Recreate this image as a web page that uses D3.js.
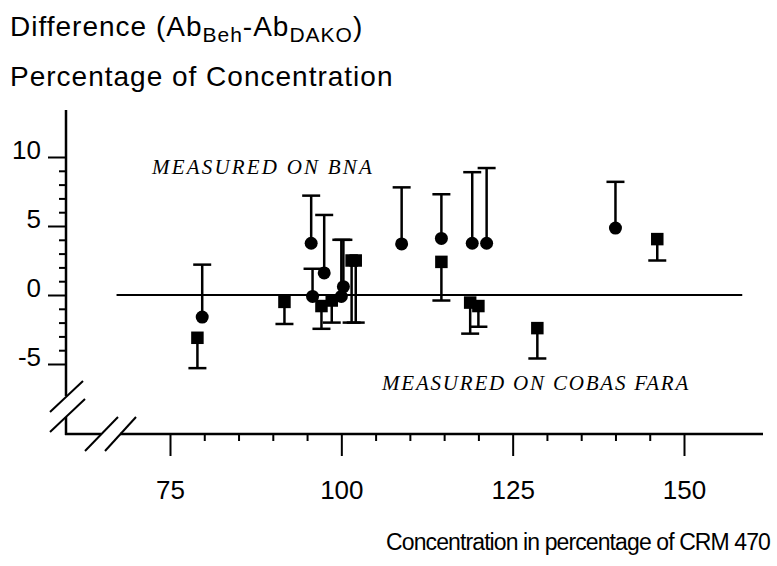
<!DOCTYPE html>
<html>
<head>
<meta charset="utf-8">
<script src="https://d3js.org/d3.v7.min.js"></script>
<style>
    body { margin: 0; background: #ffffff; }
    svg { display: block; }
    .sans { font-family: "Liberation Sans", Arial, sans-serif; fill: #000; }
    .serif { font-family: "Liberation Serif", "Times New Roman", serif; font-style: italic; fill: #000; }
</style>
</head>
<body>
<div class="chart"></div>
<script>
// BNA (circles, upper error bar)
var bnaX     = [79.7, 95.6, 97.5, 95.8, 100.0, 100.3, 108.8, 114.6, 119.1, 121.2, 140.0];
var bnaY     = [-1.6, 3.75, 1.6, -0.1, -0.1, 0.6, 3.7, 4.1, 3.75, 3.75, 4.85];
var bnaUpper = [2.2, 7.2, 5.8, 1.9, 4.0, 4.0, 7.8, 7.3, 8.9, 9.2, 8.2];

// COBAS FARA (squares, lower error bar)
var faraX     = [79.0, 91.7, 97.1, 98.6, 101.5, 102.1, 114.6, 118.8, 120.0, 128.6, 146.1];
var faraY     = [-3.1, -0.5, -0.8, -0.4, 2.5, 2.5, 2.4, -0.55, -0.8, -2.4, 4.05];
var faraLower = [-5.3, -2.1, -2.45, -2.0, -2.0, -2.0, -0.4, -2.8, -2.3, -4.6, 2.5];

var xMajor = [75, 100, 125, 150];
var xMinor = [80, 85, 90, 95, 105, 110, 115, 120, 130, 135, 140, 145];
var yMajor = [-5, 0, 5, 10];
var yMinor = [-4, -3, -2, -1, 1, 2, 3, 4, 6, 7, 8, 9];

var width = 777, height = 566;
var svg = d3.select('.chart').append('svg')
    .attr('width', width)
    .attr('height', height);

var x = d3.scaleLinear().domain([75, 150]).range([170, 684]);
var y = d3.scaleLinear().domain([-5, 10]).range([364, 157]);

var axisX0 = 66, axisY0 = 434;
var plain = function(d) { return String(d); };

// y axis (upper part + stub below the break)
svg.append('line').attr('x1', axisX0).attr('x2', axisX0)
    .attr('y1', y(13.4)).attr('y2', 396)
    .attr('stroke', '#000').attr('stroke-width', 2.5);
svg.append('line').attr('x1', axisX0).attr('x2', axisX0)
    .attr('y1', 417).attr('y2', axisY0 + 1)
    .attr('stroke', '#000').attr('stroke-width', 2.5);

var yMaj = svg.append('g').attr('transform', 'translate(' + axisX0 + ',0)')
    .call(d3.axisLeft(y).tickValues(yMajor).tickSize(18).tickFormat(plain));
var yMin = svg.append('g').attr('transform', 'translate(' + axisX0 + ',0)')
    .call(d3.axisLeft(y).tickValues(yMinor).tickSize(7).tickFormat(''));
[yMaj, yMin].forEach(function(g) {
    g.select('.domain').remove();
    g.selectAll('line').attr('stroke', '#000').attr('stroke-width', 2);
});
yMaj.selectAll('text')
    .attr('x', -25)
    .attr('dy', '0.05em')
    .style('font-size', '26px')
    .style('font-family', '"Liberation Sans", Arial, sans-serif')
    .attr('fill', '#000');

// x axis
svg.append('line').attr('x1', axisX0 - 1).attr('x2', 101)
    .attr('y1', axisY0).attr('y2', axisY0)
    .attr('stroke', '#000').attr('stroke-width', 2.5);
svg.append('line').attr('x1', 120).attr('x2', 763)
    .attr('y1', axisY0).attr('y2', axisY0)
    .attr('stroke', '#000').attr('stroke-width', 2.5);

var xMaj = svg.append('g').attr('transform', 'translate(0,' + axisY0 + ')')
    .call(d3.axisBottom(x).tickValues(xMajor).tickSize(22).tickFormat(plain));
var xMin = svg.append('g').attr('transform', 'translate(0,' + axisY0 + ')')
    .call(d3.axisBottom(x).tickValues(xMinor).tickSize(7).tickFormat(''));
[xMaj, xMin].forEach(function(g) {
    g.select('.domain').remove();
    g.selectAll('line').attr('stroke', '#000').attr('stroke-width', 2);
});
xMaj.selectAll('text')
    .attr('y', 65)
    .attr('dy', 0)
    .style('font-size', '26px')
    .style('font-family', '"Liberation Sans", Arial, sans-serif')
    .attr('fill', '#000');

// axis breaks
var breaks = [[50, 412, 83, 381], [50, 432, 85, 399], [85, 451, 118, 417], [105, 451, 136, 417]];
svg.selectAll('.brk').data(breaks).enter().append('line')
    .attr('class', 'brk')
    .attr('x1', function(d) { return d[0]; })
    .attr('y1', function(d) { return d[1]; })
    .attr('x2', function(d) { return d[2]; })
    .attr('y2', function(d) { return d[3]; })
    .attr('stroke', '#000').attr('stroke-width', 2);

// zero line
svg.append('line')
    .attr('x1', x(67.2)).attr('x2', x(158.5))
    .attr('y1', y(0)).attr('y2', y(0))
    .attr('stroke', '#000').attr('stroke-width', 2);

var capW = 9;

// error bars, BNA
bnaX.forEach(function(v, i) {
    svg.append('line').attr('x1', x(v)).attr('x2', x(v))
        .attr('y1', y(bnaY[i])).attr('y2', y(bnaUpper[i]))
        .attr('stroke', '#000').attr('stroke-width', 2.5);
    svg.append('line').attr('x1', x(v) - capW).attr('x2', x(v) + capW)
        .attr('y1', y(bnaUpper[i])).attr('y2', y(bnaUpper[i]))
        .attr('stroke', '#000').attr('stroke-width', 2.5);
});

// error bars, FARA
faraX.forEach(function(v, i) {
    svg.append('line').attr('x1', x(v)).attr('x2', x(v))
        .attr('y1', y(faraY[i])).attr('y2', y(faraLower[i]))
        .attr('stroke', '#000').attr('stroke-width', 2.5);
    svg.append('line').attr('x1', x(v) - capW).attr('x2', x(v) + capW)
        .attr('y1', y(faraLower[i])).attr('y2', y(faraLower[i]))
        .attr('stroke', '#000').attr('stroke-width', 2.5);
});

// circles
svg.selectAll('.bna').data(bnaX).enter().append('circle')
    .attr('class', 'bna')
    .attr('cx', function(d) { return x(d); })
    .attr('cy', function(d, i) { return y(bnaY[i]); })
    .attr('r', 6.5)
    .attr('fill', '#000');

// squares
var sq = 12.5;
svg.selectAll('.fara').data(faraX).enter().append('rect')
    .attr('class', 'fara')
    .attr('x', function(d) { return x(d) - sq / 2; })
    .attr('y', function(d, i) { return y(faraY[i]) - sq / 2; })
    .attr('width', sq).attr('height', sq)
    .attr('fill', '#000');

// labels
svg.append('text').attr('class', 'serif')
    .attr('x', 152).attr('y', 174)
    .style('font-size', '21px').style('letter-spacing', '2.2px')
    .text('MEASURED ON  BNA');
svg.append('text').attr('class', 'serif')
    .attr('x', 382).attr('y', 390)
    .style('font-size', '21px').style('letter-spacing', '1.8px')
    .text('MEASURED ON COBAS FARA');

// titles
var t1 = svg.append('text').attr('class', 'sans')
    .attr('x', 10).attr('y', 36)
    .style('font-size', '28px').style('letter-spacing', '1px');
t1.append('tspan').text('Difference (Ab');
t1.append('tspan').attr('dy', 6).style('font-size', '21px').text('Beh');
t1.append('tspan').attr('dy', -6).text('-Ab');
t1.append('tspan').attr('dy', 6).style('font-size', '21px').text('DAKO');
t1.append('tspan').attr('dy', -6).text(')');

svg.append('text').attr('class', 'sans')
    .attr('x', 10).attr('y', 86)
    .style('font-size', '28px').style('letter-spacing', '1px')
    .text('Percentage of Concentration');

svg.append('text').attr('class', 'sans')
    .attr('x', 770).attr('y', 550)
    .attr('text-anchor', 'end')
    .style('font-size', '23px').style('letter-spacing', '-0.9px')
    .text('Concentration in percentage of CRM 470');
</script>
</body>
</html>
